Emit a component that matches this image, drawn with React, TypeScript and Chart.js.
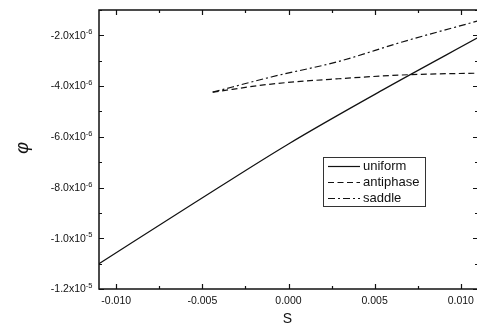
import React, { useEffect, useRef } from "react";
import { Chart, registerables } from "chart.js";

Chart.register(...registerables);

// ---- data ----
const uniformS = [-0.011, -0.0055, 0.0, 0.0055, 0.011];
const uniformPhi = [-1.1e-5, -8.62e-6, -6.28e-6, -4.14e-6, -2.09e-6];

const antiphaseS = [-0.0044, -0.001, 0.0029, 0.007, 0.011];
const antiphasePhi = [-4.24e-6, -3.92e-6, -3.71e-6, -3.55e-6, -3.49e-6];

const saddleS = [-0.0044, -0.001, 0.0029, 0.0066, 0.011];
const saddlePhi = [-4.24e-6, -3.64e-6, -3.03e-6, -2.26e-6, -1.43e-6];

const seriesNames = ["uniform", "antiphase", "saddle"];

const xMajorTicks = [-0.01, -0.005, 0.0, 0.005, 0.01];
const xMinorTicks = [-0.0075, -0.0025, 0.0025, 0.0075];
const xTickLabels = ["-0.010", "-0.005", "0.000", "0.005", "0.010"];

const yMajorTicks = [-2e-6, -4e-6, -6e-6, -8e-6, -1e-5, -1.2e-5];
const yMinorTicks = [-1e-6, -3e-6, -5e-6, -7e-6, -9e-6, -1.1e-5];
const yTickMantissa = ["-2.0", "-4.0", "-6.0", "-8.0", "-1.0", "-1.2"];
const yTickExponent = ["-6", "-6", "-6", "-6", "-5", "-5"];

const xRange = [-0.011, 0.011];
const yRange = [-1.2e-5, -1e-6];

const xTitle = "S";
const yTitle = "\u03c6";

const dashes: number[][] = [[], [6, 3.5], [7, 3, 2, 3]];

const FONT = "'Liberation Sans', Arial, sans-serif";
const INK = "#111";

function toPts(xs: number[], ys: number[]) {
  return xs.map((x, i) => ({ x, y: ys[i] }));
}

const framePlugin = {
  id: "originFrame",
  afterDraw(chart: any) {
    const { ctx, chartArea: ca, scales } = chart;
    const xs = scales.x;
    const ys = scales.y;
    ctx.save();
    ctx.strokeStyle = INK;
    ctx.fillStyle = INK;
    // frame
    ctx.lineWidth = 1.5;
    ctx.strokeRect(ca.left, ca.top, ca.right - ca.left, ca.bottom - ca.top);
    // ticks
    ctx.lineWidth = 1.2;
    const major = 5;
    const minor = 3;
    const vt = (v: number, len: number) => {
      const px = Math.round(xs.getPixelForValue(v)) + 0.5;
      ctx.beginPath();
      ctx.moveTo(px, ca.bottom);
      ctx.lineTo(px, ca.bottom - len);
      ctx.moveTo(px, ca.top);
      ctx.lineTo(px, ca.top + len);
      ctx.stroke();
    };
    const ht = (v: number, len: number) => {
      const py = Math.round(ys.getPixelForValue(v)) + 0.5;
      ctx.beginPath();
      ctx.moveTo(ca.left, py);
      ctx.lineTo(ca.left + len, py);
      ctx.moveTo(ca.right, py);
      ctx.lineTo(ca.right - len, py);
      ctx.stroke();
    };
    xMajorTicks.forEach((v) => vt(v, major));
    xMinorTicks.forEach((v) => vt(v, minor));
    yMajorTicks.forEach((v) => ht(v, major));
    yMinorTicks.forEach((v) => ht(v, minor));

    // x tick labels
    ctx.font = `10.5px ${FONT}`;
    ctx.textAlign = "center";
    ctx.textBaseline = "middle";
    xMajorTicks.forEach((v, i) => {
      ctx.fillText(xTickLabels[i], xs.getPixelForValue(v), ca.bottom + 12);
    });

    // y tick labels with superscripts
    yMajorTicks.forEach((v, i) => {
      const py = ys.getPixelForValue(v);
      ctx.font = `7.5px ${FONT}`;
      const ew = ctx.measureText(yTickExponent[i]).width;
      const right = ca.left - 6.5;
      ctx.textAlign = "left";
      ctx.textBaseline = "alphabetic";
      ctx.fillText(yTickExponent[i], right - ew, py - 1);
      ctx.font = `10.5px ${FONT}`;
      ctx.textAlign = "right";
      ctx.textBaseline = "middle";
      ctx.fillText(yTickMantissa[i] + "x10", right - ew, py + 0.5);
    });

    // axis titles
    ctx.font = `14px ${FONT}`;
    ctx.textAlign = "center";
    ctx.textBaseline = "middle";
    ctx.fillText(xTitle, xs.getPixelForValue(0) - 1, ca.bottom + 30);

    ctx.save();
    ctx.translate(23, 148);
    ctx.rotate(-Math.PI / 2);
    ctx.font = `italic 18px ${FONT}`;
    ctx.fillText(yTitle, 0, 0);
    ctx.restore();

    // legend
    const bx = 323.5;
    const by = 157.5;
    const bw = 102;
    const bh = 49;
    ctx.lineWidth = 1;
    ctx.strokeStyle = "#333";
    ctx.strokeRect(bx, by, bw, bh);
    ctx.strokeStyle = INK;
    ctx.font = `13px ${FONT}`;
    ctx.textAlign = "left";
    ctx.textBaseline = "middle";
    seriesNames.forEach((name, i) => {
      const cy = 166 + i * 16;
      ctx.lineWidth = 1.2;
      ctx.setLineDash(dashes[i]);
      ctx.beginPath();
      ctx.moveTo(328, cy + 0.5);
      ctx.lineTo(360, cy + 0.5);
      ctx.stroke();
      ctx.setLineDash([]);
      ctx.fillText(name, 363, cy);
    });
    ctx.restore();
  },
};

export default function App() {
  const ref = useRef<HTMLCanvasElement | null>(null);
  useEffect(() => {
    if (!ref.current) return;
    const mk = (label: string, xs: number[], ys: number[], i: number) => ({
      label,
      data: toPts(xs, ys),
      showLine: true,
      borderColor: INK,
      borderWidth: 1.2,
      borderDash: dashes[i],
      pointRadius: 0,
      cubicInterpolationMode: "monotone" as const,
      fill: false,
    });
    const chart = new Chart(ref.current, {
      type: "scatter",
      data: {
        datasets: [
          mk(seriesNames[0], uniformS, uniformPhi, 0),
          mk(seriesNames[1], antiphaseS, antiphasePhi, 1),
          mk(seriesNames[2], saddleS, saddlePhi, 2),
        ],
      },
      options: {
        animation: false,
        responsive: false,
        devicePixelRatio: 1,
        layout: { padding: { left: 99, top: 10, right: 4, bottom: 35 } },
        plugins: { legend: { display: false }, tooltip: { enabled: false } },
        scales: {
          x: { type: "linear", display: false, min: xRange[0], max: xRange[1] },
          y: { type: "linear", display: false, min: yRange[0], max: yRange[1] },
        },
      },
      plugins: [framePlugin],
    });
    return () => chart.destroy();
  }, []);
  return (
    <div style={{ position: "fixed", left: 0, top: 0, width: 482, height: 324, background: "#fff" }}>
      <canvas ref={ref} width={482} height={324} />
    </div>
  );
}
